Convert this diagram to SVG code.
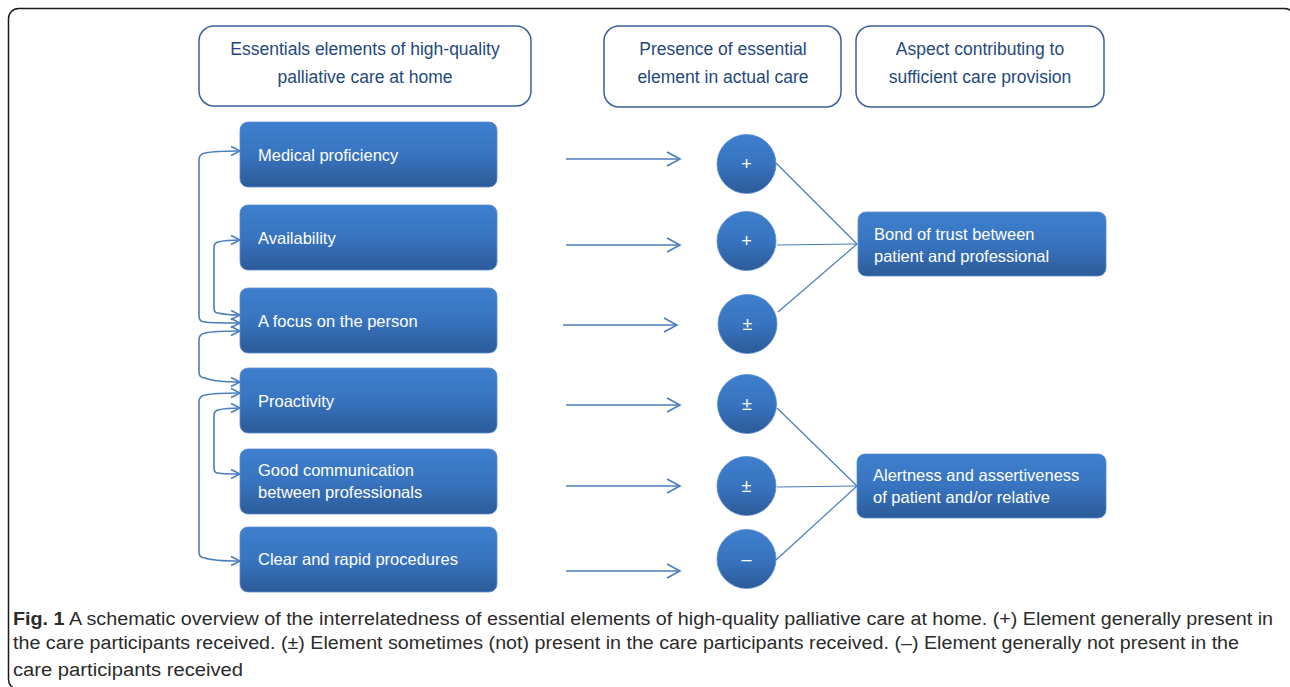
<svg xmlns="http://www.w3.org/2000/svg" width="1290" height="687" viewBox="0 0 1290 687">
<style>
.hdr{fill:#fff;stroke:#3a619a;stroke-width:1.5}
.hdrt{font-family:"Liberation Sans",Arial,sans-serif;font-size:17.5px;fill:#1f497d;text-anchor:middle}
.box{fill:url(#bg);stroke:#5b8ad0;stroke-width:0.8}
.bt{font-family:"Liberation Sans",Arial,sans-serif;font-size:16.5px;fill:#fff}
.circ{fill:url(#bg);stroke:#5b8ad0;stroke-width:0.8}
.ct{font-family:"Liberation Sans",Arial,sans-serif;font-size:18px;fill:#fff;text-anchor:middle}
.arr{fill:none;stroke:#4a7ebb;stroke-width:1.6;marker-end:url(#ah)}
.br{fill:none;stroke:#4a7ebb;stroke-width:1.6;marker-start:url(#sh);marker-end:url(#sh)}
.ln{fill:none;stroke:#4a7ebb;stroke-width:1.2}
.cap{font-family:"Liberation Sans",Arial,sans-serif;font-size:18px;fill:#2b2b2b}
</style>
<defs>
<linearGradient id="bg" x1="0" y1="0" x2="0" y2="1">
<stop offset="0" stop-color="#3e7fcd"/>
<stop offset="0.5" stop-color="#3874c0"/>
<stop offset="1" stop-color="#2c5b98"/>
</linearGradient>
<marker id="ah" markerUnits="userSpaceOnUse" markerWidth="16" markerHeight="18" refX="14" refY="8" orient="auto">
<path d="M1,1 L14,8 L1,15" fill="none" stroke="#4a7ebb" stroke-width="1.6"/>
</marker>
<marker id="sh" markerUnits="userSpaceOnUse" markerWidth="12" markerHeight="12" refX="10" refY="6" orient="auto-start-reverse">
<path d="M1,1.5 L10,6 L1,10.5" fill="none" stroke="#4a7ebb" stroke-width="1.6"/>
</marker>
</defs>
<rect x="0" y="0" width="1290" height="687" fill="#fff"/>
<rect x="8.5" y="8.5" width="1286" height="681" rx="10" fill="none" stroke="#1a1a1a" stroke-width="1.5"/>

<g id="h1"><rect class="hdr" x="199" y="26" width="332" height="80" rx="15"/>
<text class="hdrt" x="365" y="55">Essentials elements of high-quality</text>
<text class="hdrt" x="365" y="83">palliative care at home</text></g>
<g id="h2"><rect class="hdr" x="604" y="26" width="237" height="81" rx="15"/>
<text class="hdrt" x="723" y="55">Presence of essential</text>
<text class="hdrt" x="723" y="83">element in actual care</text></g>
<g id="h3"><rect class="hdr" x="856" y="26" width="248" height="81" rx="15"/>
<text class="hdrt" x="980" y="55">Aspect contributing to</text>
<text class="hdrt" x="980" y="83">sufficient care provision</text></g>

<g id="connectors">
<line class="arr" x1="566" y1="159" x2="680" y2="159"/>
<line class="arr" x1="566" y1="245" x2="680" y2="245"/>
<line class="arr" x1="563" y1="325" x2="677" y2="325"/>
<line class="arr" x1="566" y1="405" x2="680" y2="405"/>
<line class="arr" x1="566" y1="486" x2="680" y2="486"/>
<line class="arr" x1="566" y1="571" x2="680" y2="571"/>
<path class="br" d="M240,151 C220,151 210,152 205,153 Q199,154 199,160 L199,316 Q199,322 205,322 C210,323 220,323 240,323"/>
<path class="br" d="M240,240 C228,240 222,241 218,242 Q214,243 214,248 L214,308 Q214,313 218,313 C222,314 228,315 240,315"/>
<path class="br" d="M240,331 C220,331 210,332 205,333 Q199,334 199,340 L199,372 Q199,378 205,378 C210,380 220,382 240,382"/>
<path class="br" d="M240,393 C220,393 210,394 205,395 Q199,396 199,402 L199,552 Q199,558 205,558 C210,560 220,561 240,561"/>
<path class="br" d="M240,408 C228,408 222,409 218,410 Q214,411 214,416 L214,468 Q214,473 218,473 C222,474 228,474 240,474"/>
<line class="ln" x1="776" y1="163" x2="857" y2="244"/>
<line class="ln" x1="777" y1="245" x2="857" y2="244"/>
<line class="ln" x1="778" y1="312" x2="857" y2="244"/>
<line class="ln" x1="777" y1="408" x2="857" y2="486"/>
<line class="ln" x1="777" y1="487" x2="857" y2="486"/>
<line class="ln" x1="776" y1="560" x2="857" y2="486"/>
</g>

<g id="n1"><rect class="box" x="240" y="122" width="257" height="65" rx="8"/><text class="bt" x="258" y="161">Medical proficiency</text></g>
<g id="n2"><rect class="box" x="240" y="205" width="257" height="65" rx="8"/><text class="bt" x="258" y="244">Availability</text></g>
<g id="n3"><rect class="box" x="240" y="288" width="257" height="65" rx="8"/><text class="bt" x="258" y="327">A focus on the person</text></g>
<g id="n4"><rect class="box" x="240" y="368" width="257" height="65" rx="8"/><text class="bt" x="258" y="407">Proactivity</text></g>
<g id="n5"><rect class="box" x="240" y="449" width="257" height="65" rx="8"/><text class="bt" x="258" y="476">Good communication</text><text class="bt" x="258" y="498">between professionals</text></g>
<g id="n6"><rect class="box" x="240" y="527" width="257" height="65" rx="8"/><text class="bt" x="258" y="565">Clear and rapid procedures</text></g>

<g id="c1"><circle class="circ" cx="746.5" cy="164" r="29.5"/><text class="ct" x="746.5" y="170">+</text></g>
<g id="c2"><circle class="circ" cx="746.5" cy="241" r="29.5"/><text class="ct" x="746.5" y="247">+</text></g>
<g id="c3"><circle class="circ" cx="747.5" cy="324" r="29.5"/><text class="ct" x="747.5" y="330">±</text></g>
<g id="c4"><circle class="circ" cx="747" cy="404" r="29.5"/><text class="ct" x="747" y="410">±</text></g>
<g id="c5"><circle class="circ" cx="746.5" cy="486" r="29.5"/><text class="ct" x="746.5" y="492">±</text></g>
<g id="c6"><circle class="circ" cx="746.5" cy="559" r="29.5"/><text class="ct" x="746.5" y="565">–</text></g>

<g id="r1"><rect class="box" x="858" y="212" width="248" height="64" rx="8"/><text class="bt" x="874" y="240">Bond of trust between</text><text class="bt" x="874" y="262">patient and professional</text></g>
<g id="r2"><rect class="box" x="857" y="454" width="249" height="64" rx="8"/><text class="bt" x="873" y="481">Alertness and assertiveness</text><text class="bt" x="873" y="503">of patient and/or relative</text></g>

<g id="caption">
<text class="cap" x="13" y="625" textLength="1260" lengthAdjust="spacingAndGlyphs"><tspan font-weight="bold">Fig. 1</tspan> A schematic overview of the interrelatedness of essential elements of high-quality palliative care at home. (+) Element generally present in</text>
<text class="cap" x="13" y="649" textLength="1226" lengthAdjust="spacingAndGlyphs">the care participants received. (±) Element sometimes (not) present in the care participants received. (–) Element generally not present in the</text>
<text class="cap" x="13" y="676" textLength="230" lengthAdjust="spacingAndGlyphs">care participants received</text>
</g>
</svg>
